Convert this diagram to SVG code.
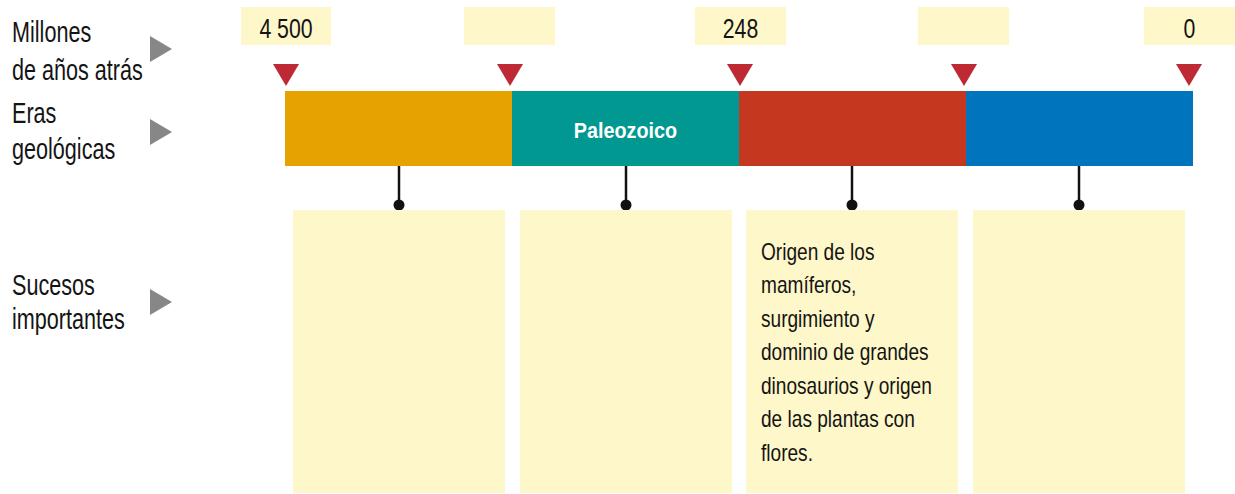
<svg xmlns="http://www.w3.org/2000/svg" width="1235" height="494" viewBox="0 0 1235 494">
  <style>
    text{font-family:"Liberation Sans",Arial,sans-serif;fill:#141414}
    .lbl{font-size:29px}
    .yr{font-size:28px;text-anchor:middle}
    .body{font-size:23px}
    .era{font-size:22px;font-weight:bold;fill:#ffffff;text-anchor:middle}
    .ybox{fill:#fef7c9}
    .sbox{fill:#fef7c9}
    .tick{fill:#bd2a34}
    .gar{fill:#878787}
    .conn line{stroke:#111;stroke-width:2.5}
    .conn circle{fill:#111}
  </style>
  <rect width="1235" height="494" fill="#ffffff"/>

  <g id="row-labels">
    <text class="lbl" transform="translate(12 42) scale(0.745 1)"><tspan x="0" y="0">Millones</tspan><tspan x="0" y="38">de años atrás</tspan></text>
    <polygon class="gar" points="150,36 172,49 150,62"/>
    <text class="lbl" transform="translate(12 123) scale(0.745 1)"><tspan x="0" y="0">Eras</tspan><tspan x="0" y="36">geológicas</tspan></text>
    <polygon class="gar" points="150,119 172,132 150,145"/>
    <text class="lbl" transform="translate(12 295) scale(0.745 1)"><tspan x="0" y="0">Sucesos</tspan><tspan x="0" y="34">importantes</tspan></text>
    <polygon class="gar" points="150,289 172,302 150,315"/>
  </g>

  <g id="year-4500">
    <rect class="ybox" x="241" y="7" width="90" height="38"/>
    <text class="yr" transform="translate(286 38) scale(0.76 1)">4 500</text>
    <polygon class="tick" points="273,64 299,64 286,86"/>
  </g>
  <g id="year-2">
    <rect class="ybox" x="464" y="7" width="91" height="38"/>
    <polygon class="tick" points="497,64 523,64 510,86"/>
  </g>
  <g id="year-248">
    <rect class="ybox" x="695" y="7" width="91" height="38"/>
    <text class="yr" transform="translate(740.5 38) scale(0.76 1)">248</text>
    <polygon class="tick" points="727,64 753,64 740,86"/>
  </g>
  <g id="year-4">
    <rect class="ybox" x="918" y="7" width="91" height="38"/>
    <polygon class="tick" points="951,64 977,64 964,86"/>
  </g>
  <g id="year-0">
    <rect class="ybox" x="1144" y="7" width="91" height="38"/>
    <text class="yr" transform="translate(1189.5 38) scale(0.76 1)">0</text>
    <polygon class="tick" points="1176,64 1202,64 1189,86"/>
  </g>

  <g id="era-1"><rect x="285" y="91" width="227" height="75" fill="#e5a200"/></g>
  <g id="era-paleozoico">
    <rect x="512" y="91" width="227" height="75" fill="#009891"/>
    <text class="era" transform="translate(625.5 137.5) scale(0.9 1)">Paleozoico</text>
  </g>
  <g id="era-3"><rect x="739" y="91" width="227" height="75" fill="#c63720"/></g>
  <g id="era-4"><rect x="966" y="91" width="227" height="75" fill="#0075bd"/></g>

  <g id="connectors" class="conn">
    <line x1="399" y1="166" x2="399" y2="205"/><circle cx="399" cy="205" r="5.5"/>
    <line x1="626" y1="166" x2="626" y2="205"/><circle cx="626" cy="205" r="5.5"/>
    <line x1="852" y1="166" x2="852" y2="205"/><circle cx="852" cy="205" r="5.5"/>
    <line x1="1079" y1="166" x2="1079" y2="205"/><circle cx="1079" cy="205" r="5.5"/>
  </g>

  <g id="event-1"><rect class="sbox" x="293" y="210" width="212" height="283"/></g>
  <g id="event-2"><rect class="sbox" x="520" y="210" width="212" height="283"/></g>
  <g id="event-3">
    <rect class="sbox" x="746" y="210" width="212" height="283"/>
    <text class="body" transform="translate(761 260) scale(0.83 1)"><tspan x="0" y="0">Origen de los</tspan><tspan x="0" y="33.5">mamíferos,</tspan><tspan x="0" y="67">surgimiento y</tspan><tspan x="0" y="100.5">dominio de grandes</tspan><tspan x="0" y="134">dinosaurios y origen</tspan><tspan x="0" y="167.5">de las plantas con</tspan><tspan x="0" y="201">flores.</tspan></text>
  </g>
  <g id="event-4"><rect class="sbox" x="973" y="210" width="212" height="283"/></g>
</svg>
